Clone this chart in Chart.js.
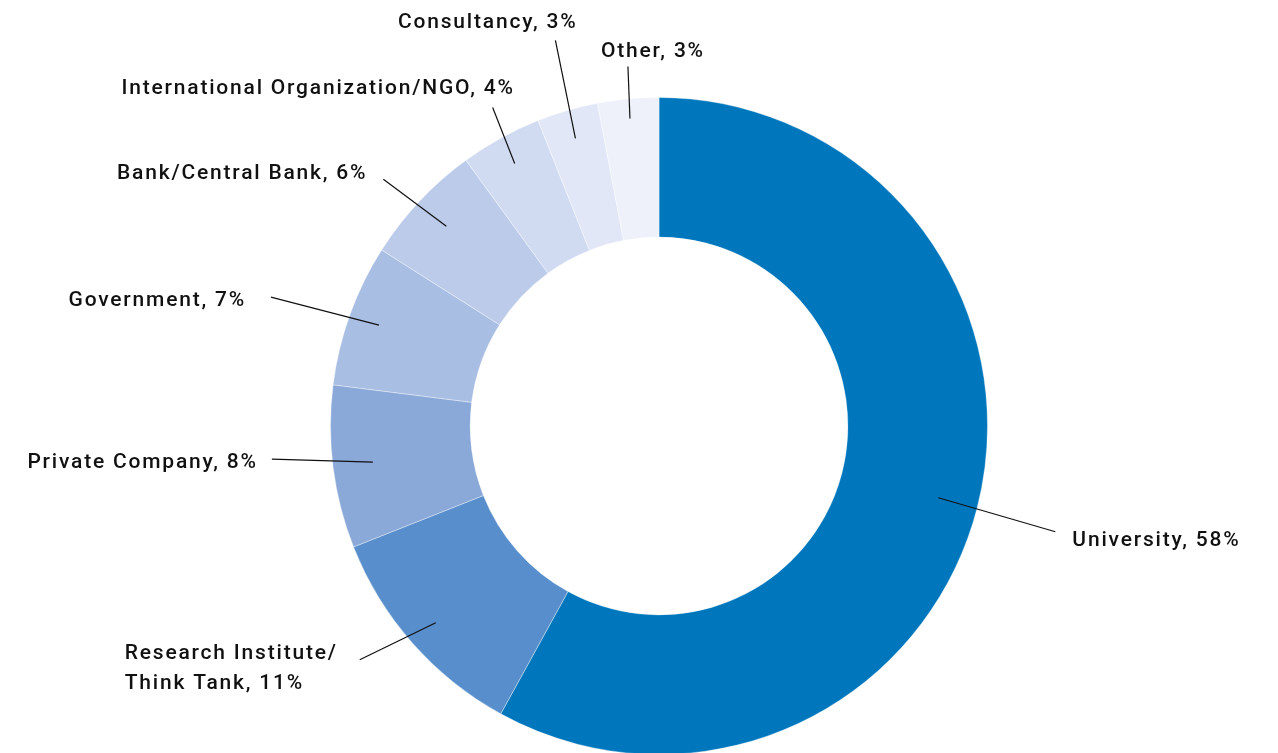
<!DOCTYPE html>
<html>
<head>
<meta charset="utf-8">
<script src="https://cdn.jsdelivr.net/npm/chart.js@4"></script>
<style>
  html, body { margin: 0; padding: 0; background: #fff; overflow: hidden; }
  #wrap { width: 1278px; height: 760px; position: relative; }
</style>
</head>
<body>
<div id="wrap"><canvas id="myChart"></canvas></div>
<script>
const categories = ["University", "Research Institute/Think Tank", "Private Company", "Government",
  "Bank/Central Bank", "International Organization/NGO", "Consultancy", "Other"];
const shares = [58, 11, 8, 7, 6, 4, 3, 3];
const labelLines = [
  ["University, 58%"],
  ["Research Institute/", "Think Tank, 11%"],
  ["Private Company, 8%"],
  ["Government, 7%"],
  ["Bank/Central Bank, 6%"],
  ["International Organization/NGO, 4%"],
  ["Consultancy, 3%"],
  ["Other, 3%"]
];
const colors = ["#0077bd", "#578ecb", "#8aa9d8", "#a9bee3", "#bccbea", "#d0dbf1", "#e1e7f6", "#eef1fa"];

// leader line: anchor radius (share of outer radius), offset to line end; text: align + offset from line end
const leaders = [
  { rf: 0.878, dx: 117, dy: 34, align: "left", tx: 17, ty: 9 },
  { rf: 0.906, dx: -76, dy: 37, align: "block", tx: -22, ty: -6 },
  { rf: 0.878, dx: -101, dy: -3, align: "right", tx: -14, ty: 4 },
  { rf: 0.906, dx: -108, dy: -28, align: "right", tx: -25, ty: 4 },
  { rf: 0.888, dx: -63, dy: -47, align: "right", tx: -16, ty: -6 },
  { rf: 0.912, dx: -22, dy: -56, align: "right", tx: 22, ty: -19 },
  { rf: 0.912, dx: -20, dy: -98, align: "right", tx: 22, ty: -18 },
  { rf: 0.94, dx: -2, dy: -52, align: "center", tx: 25, ty: -15 }
];

const leaderPlugin = {
  id: "leaders",
  afterDatasetsDraw(chart) {
    const ctx = chart.ctx;
    const arcs = chart.getDatasetMeta(0).data;
    ctx.save();
    ctx.font = "500 21px Roboto";
    ctx.letterSpacing = "1.8px";
    ctx.fillStyle = "#111";
    ctx.strokeStyle = "#111";
    ctx.lineWidth = 1.2;
    ctx.textBaseline = "middle";
    arcs.forEach((arc, i) => {
      const p = arc.getProps(["x", "y", "startAngle", "endAngle", "outerRadius"], true);
      const mid = (p.startAngle + p.endAngle) / 2;
      const L = leaders[i];
      const r = p.outerRadius * L.rf;
      const sx = p.x + Math.cos(mid) * r;
      const sy = p.y + Math.sin(mid) * r;
      const ex = sx + L.dx, ey = sy + L.dy;
      ctx.beginPath();
      ctx.moveTo(sx, sy);
      ctx.lineTo(ex, ey);
      ctx.stroke();
      const lines = labelLines[i];
      const w = Math.max(...lines.map(t => ctx.measureText(t).width));
      let x0;
      if (L.align === "left") x0 = ex + L.tx;
      else if (L.align === "center") x0 = ex + L.tx - w / 2;
      else x0 = ex + L.tx - w;
      ctx.textAlign = "left";
      lines.forEach((t, k) => {
        let x = x0;
        if (L.align === "right") x = ex + L.tx - ctx.measureText(t).width;
        ctx.fillText(t, x, ey + L.ty + k * 30);
      });
    });
    ctx.restore();
  }
};

new Chart("myChart", {
  type: "doughnut",
  data: {
    labels: categories,
    datasets: [{
      data: shares,
      backgroundColor: colors,
      borderColor: "rgba(255,255,255,0.35)",
      borderWidth: 1
    }]
  },
  options: {
    responsive: true,
    maintainAspectRatio: false,
    animation: false,
    cutout: "57.5%",
    layout: { padding: { top: 97, left: 40, bottom: 5, right: 0 } },
    plugins: { legend: { display: false }, tooltip: { enabled: false } }
  },
  plugins: [leaderPlugin]
});
</script>
</body>
</html>
